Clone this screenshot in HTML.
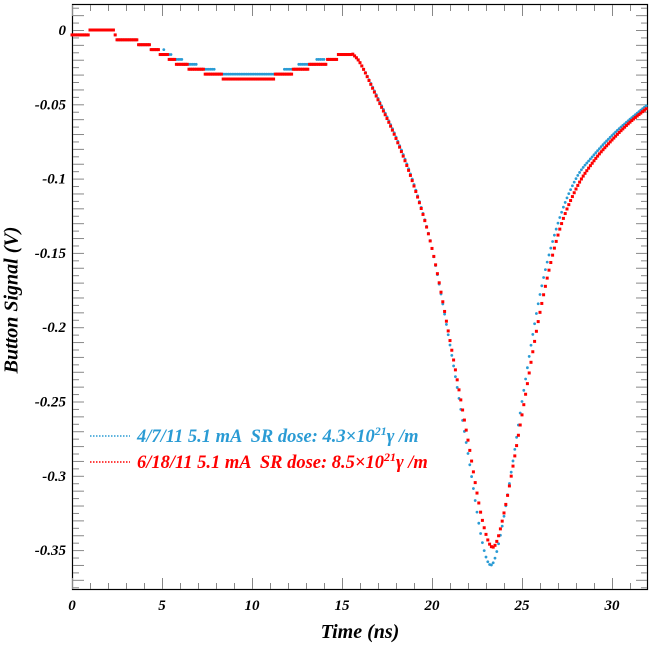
<!DOCTYPE html>
<html><head><meta charset="utf-8"><style>
body{margin:0;background:#fff}
svg{display:block;font-family:"Liberation Serif",serif;font-weight:bold;font-style:italic}
</style></head><body>
<svg id="s" width="654" height="648" xmlns="http://www.w3.org/2000/svg">
<rect x="72.5" y="4.5" width="575" height="585" fill="none" stroke="#000" stroke-width="1.2"/>
<g id="ticks" stroke="#888" stroke-width="1"></g>
<g id="lab" font-size="15" fill="#000"></g>
<g id="blue" fill="#2a9bd4"></g>
<g id="red" fill="#ff0000"></g>
<text x="13" y="300" font-size="20" transform="rotate(-90 13 300)" text-anchor="middle" dominant-baseline="middle">Button Signal (V)</text>
<text x="360" y="638" font-size="20" text-anchor="middle">Time (ns)</text>
<line x1="90" y1="436" x2="130" y2="436" stroke="#2a9bd4" stroke-width="1.5" stroke-dasharray="1.5 1.5"/>
<text x="137" y="442" font-size="18.5" fill="#2a9bd4" style="white-space:pre">4/7/11 5.1 mA  SR dose: 4.3×10<tspan dy="-7" font-size="12">21</tspan><tspan dy="7">γ /m</tspan></text>
<line x1="90" y1="462" x2="130" y2="462" stroke="#f00" stroke-width="1.5" stroke-dasharray="1.5 1.5"/>
<text x="137" y="468" font-size="18.5" fill="#f00" style="white-space:pre">6/18/11 5.1 mA  SR dose: 8.5×10<tspan dy="-7" font-size="12">21</tspan><tspan dy="7">γ /m</tspan></text>
</svg>
<script>
const X=t=>72+t*18, Y=v=>30-v*1486;
const NS="http://www.w3.org/2000/svg";
function el(p,n,a,txt){const e=document.createElementNS(NS,n);for(const k in a)e.setAttribute(k,a[k]);if(txt)e.textContent=txt;document.getElementById(p).appendChild(e);}
for(let t=0;t<=31.9;t+=1){const L=t%5==0?11:6;const x=X(t)+0.5;
 el("ticks","line",{x1:x,y1:589,y2:589-L,x2:x});el("ticks","line",{x1:x,y1:5,y2:5+L,x2:x});}
for(let i=-75;i<=3;i++){const v=i*0.005;const y=Y(v)+0.5;if(y<5||y>589)continue;const L=i%2==0?11:6;
 el("ticks","line",{x1:73,x2:73+L,y1:y,y2:y});el("ticks","line",{x1:647,x2:647-L,y1:y,y2:y});}
for(let t=0;t<=30;t+=5)el("lab","text",{x:X(t),y:610,"text-anchor":"middle"},""+t);
const yl=["0","-0.05","-0.1","-0.15","-0.2","-0.25","-0.3","-0.35"];
for(let i=0;i<=7;i++)el("lab","text",{x:66,y:Y(-i*0.05)+5,"text-anchor":"end"},yl[i]);
const base=[[0,-0.002],[0.9,-0.002],[1,0],[2.3,0],[2.5,-0.006],[4,-0.009],[5,-0.016],[6,-0.023],[7,-0.027],[8.5,-0.032],[10,-0.033],[11.5,-0.031],[12.5,-0.027],[14,-0.022],[15.2,-0.016],[15.5,-0.015]];
const red=[[15.5,-0.015],[16,-0.022],[17,-0.047],[18,-0.073],[19,-0.105],[20,-0.147],[21,-0.209],[22,-0.276],[22.8,-0.33],[23.4,-0.348],[24,-0.325],[25,-0.259],[26,-0.19],[27,-0.138],[28,-0.107],[29,-0.088],[30,-0.074],[31,-0.062],[32,-0.052]];
const blue=[[15.5,-0.015],[16,-0.022],[17,-0.046],[18,-0.072],[19,-0.104],[20,-0.147],[21,-0.212],[22,-0.285],[22.8,-0.345],[23.3,-0.36],[23.8,-0.34],[24.5,-0.29],[25,-0.25],[26,-0.178],[27,-0.13],[28,-0.1],[29,-0.084],[30,-0.071],[31,-0.06],[32,-0.05]];
function lin(k,t){for(let i=1;i<k.length;i++)if(t<=k[i][0]){const a=k[i-1],b=k[i];return a[1]+(b[1]-a[1])*(t-a[0])/(b[0]-a[0]);}return k[k.length-1][1];}
function cr(k,t){for(let i=1;i<k.length;i++)if(t<=k[i][0]){const p1=k[i-1],p2=k[i],p0=k[Math.max(0,i-2)],p3=k[Math.min(k.length-1,i+1)];
 const h=p2[0]-p1[0],u=(t-p1[0])/h;const m1=(p2[1]-p0[1])/(p2[0]-p0[0])*h,m2=(p3[1]-p1[1])/(p3[0]-p1[0])*h;
 const u2=u*u,u3=u2*u;return (2*u3-3*u2+1)*p1[1]+(u3-2*u2+u)*m1+(-2*u3+3*u2)*p2[1]+(u3-u2)*m2;}return k[k.length-1][1];}
function draw(k,g,off,round){for(let t=0;t<=31.95;t+=0.1){let v;
 if(t<15.5){v=lin(base,t)+(off&&t>5&&t<14?0.002:0);v=Math.round(v/0.0033)*0.0033;}else v=cr(k,t);
 if(round)el(g,"circle",{cx:X(t),cy:Y(v),r:1.4});else el(g,"rect",{x:X(t)-1.5,y:Y(v)-1.5,width:3,height:3});}}
draw(blue,"blue",1,true);draw(red,"red",0,false);
</script>
</body></html>
